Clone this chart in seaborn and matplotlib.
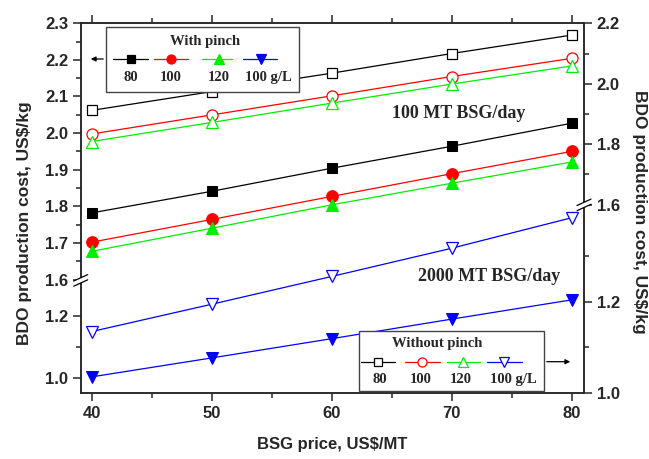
import numpy as np
import matplotlib
matplotlib.use('Agg')
import matplotlib.pyplot as plt
from matplotlib.patches import Rectangle, Polygon
import seaborn as sns

# data
bsg_price = [40, 50, 60, 70, 80]
# with pinch -> left axis
wp_80 = [1.782, 1.841, 1.904, 1.964, 2.027]
wp_100 = [1.702, 1.764, 1.827, 1.889, 1.950]
wp_120 = [1.677, 1.740, 1.804, 1.863, 1.921]
wp_100gl = [1.004, 1.065, 1.127, 1.190, 1.252]
# without pinch -> right axis
np_80 = [1.912, 1.974, 2.035, 2.100, 2.161]
np_100 = [1.834, 1.897, 1.960, 2.024, 2.084]
np_120 = [1.809, 1.872, 1.936, 1.999, 2.059]
np_100gl = [1.135, 1.195, 1.256, 1.318, 1.385]

legend_labels = ['80', '100', '120', '100 g/L']
colors = ['black', '#ff0000', '#00ee00', '#0000ff']
markers = ['s', 'o', '^', 'v']
msizes = [7.5, 8.4, 8.6, 8.6]

sns.set_style('ticks')
plt.rcParams['font.family'] = ['Liberation Sans', 'DejaVu Sans']
plt.rcParams['font.weight'] = 'bold'
plt.rcParams['axes.linewidth'] = 1.1

fig = plt.figure(figsize=(6.49, 4.59), dpi=100)
L, R, T, B = 80.7, 584, 23.3, 393
W, H = 649, 459
ax = fig.add_axes([L / W, 1 - B / H, (R - L) / W, (B - T) / H])
ax2 = ax.twinx()


def broken_scale(vals, hts):
    vals = np.asarray(vals, float)
    hts = np.asarray(hts, float)
    return (lambda v: np.interp(v, vals, hts), lambda h: np.interp(h, hts, vals))


# broken y axes (piecewise linear scales)
ax.set_yscale('function', functions=broken_scale([0.952, 1.316, 1.6, 2.3], [0, 113, 113.5, 369.7]))
ax2.set_yscale('function', functions=broken_scale([1.0, 1.413, 1.6, 2.2], [0, 188, 188.3, 369.7]))

for vals, c, m, ms in zip([wp_80, wp_100, wp_120, wp_100gl], colors, markers, msizes):
    sns.lineplot(x=bsg_price, y=vals, ax=ax, color=c, marker=m, markersize=ms,
                 markerfacecolor=c, markeredgecolor=c, linewidth=0.9)
for vals, c, m, ms in zip([np_80, np_100, np_120, np_100gl], colors, markers, msizes):
    sns.lineplot(x=bsg_price, y=vals, ax=ax2, color=c, marker=m, markersize=ms * 0.95,
                 markerfacecolor='white', markeredgecolor=c, markeredgewidth=0.9, linewidth=0.9)

ax.set_xlim(39.08, 81.03)
ax.set_ylim(0.952, 2.3)
ax2.set_ylim(1.0, 2.2)

ax.set_xticks([40, 50, 60, 70, 80])
ax.set_xticks([45, 55, 65, 75], minor=True)
left_major = [1.0, 1.2, 1.6, 1.7, 1.8, 1.9, 2.0, 2.1, 2.2, 2.3]
left_minor = [1.1, 1.65, 1.75, 1.85, 1.95, 2.05, 2.15, 2.25]
right_major = [1.0, 1.2, 1.6, 1.8, 2.0, 2.2]
right_minor = [1.1, 1.3, 1.7, 1.9, 2.1]
ax.set_yticks(left_major)
ax.set_yticklabels([f'{v:.1f}' for v in left_major])
ax.set_yticks(left_minor, minor=True)
ax2.set_yticks(right_major)
ax2.set_yticklabels([f'{v:.1f}' for v in right_major])
ax2.set_yticks(right_minor, minor=True)

for a in (ax, ax2):
    a.tick_params(which='major', length=6, width=1.1, labelsize=12, pad=3)
    a.tick_params(which='minor', length=3.5, width=1.1)
    for lab in a.get_xticklabels() + a.get_yticklabels():
        lab.set_fontweight('bold')
ax.tick_params(axis='x', which='both', top=True)
ax2.grid(False)
ax.grid(False)

ax.set_xlabel('BSG price, US$/MT', fontsize=12, fontweight='bold', labelpad=12)
ax.set_ylabel('BDO production cost, US$/kg', fontsize=12.5, fontweight='bold')
ax2.set_ylabel('BDO production cost, US$/kg', fontsize=12.5, fontweight='bold', rotation=270)
ax.yaxis.set_label_coords(-0.097, 0.46)
ax2.yaxis.set_label_coords(1.125, 0.49)


def fr(xp, yp):
    return ((xp - L) / (R - L), (B - yp) / (B - T))


def draw_break(xp, yp):
    dx, dy, gap = 7, 3.2, 2.6
    pts = [fr(xp - dx, yp + dy), fr(xp + dx, yp - dy), fr(xp + dx, yp - dy - gap * 2), fr(xp - dx, yp + dy - gap * 2)]
    ax2.add_patch(Polygon(pts, closed=True, transform=ax2.transAxes, facecolor='white',
                          edgecolor='none', clip_on=False, zorder=20))
    for off in (0, gap * 2):
        (x0, y0), (x1, y1) = fr(xp - dx, yp + dy - off), fr(xp + dx, yp - dy - off)
        ax2.plot([x0, x1], [y0, y1], transform=ax2.transAxes, color='black', lw=0.9,
                 clip_on=False, zorder=21)


draw_break(L, 283)
draw_break(R, 207.5)

serif = ['Liberation Serif', 'DejaVu Serif']


def legend_box(x0, y0, x1, y1, title, title_xy, line_y, segs, mcent, lab_y, lab_x, filled):
    (fx0, fy0), (fx1, fy1) = fr(x0, y1), fr(x1, y0)
    ax2.add_patch(Rectangle((fx0, fy0), fx1 - fx0, fy1 - fy0, transform=ax2.transAxes,
                            facecolor='white', edgecolor='#444444', lw=1.0, zorder=30, clip_on=False))
    tx, ty = fr(*title_xy)
    ax2.text(tx, ty, title, transform=ax2.transAxes, ha='center', va='center', family=serif,
             fontsize=10.5, fontweight='bold', zorder=31)
    for (s0, s1), mc, c, m, lab, lx in zip(segs, mcent, colors, markers, legend_labels, lab_x):
        (a0, yy), (a1, _) = fr(s0, line_y), fr(s1, line_y)
        ax2.plot([a0, a1], [yy, yy], transform=ax2.transAxes, color=c, lw=0.9, zorder=32, clip_on=False)
        mx, _ = fr(mc, line_y)
        ax2.plot([mx], [yy], transform=ax2.transAxes, marker=m, ms=6.5 if m != 's' else 5.5,
                 color=c, mfc=c if filled else 'white', mec=c, mew=0.9, zorder=33, clip_on=False)
        lxx, lyy = fr(lx, lab_y)
        ax2.text(lxx, lyy, lab, transform=ax2.transAxes, ha='center', va='center', family=serif,
                 fontsize=10.5, fontweight='bold', zorder=33)


legend_box(106, 27, 299, 92, 'With pinch', (205, 42), 59,
           [(113, 148), (154, 188), (202, 232), (243, 277)], [130.7, 171, 219, 261],
           78, [130.7, 171, 219, 268], True)
legend_box(359, 331, 544, 391, 'Without pinch', (437, 343), 361.7,
           [(361, 395), (405, 440), (447, 480), (487, 522)], [378, 422, 463, 504],
           379.5, [380, 421, 461, 513], False)

# arrows pointing to the axis each group belongs to
ax2.annotate('', xy=fr(88, 59), xytext=fr(106, 59), xycoords='axes fraction', textcoords='axes fraction',
             arrowprops=dict(arrowstyle='-|>', color='black', lw=0.9, mutation_scale=7), zorder=34)
ax2.annotate('', xy=fr(573, 361.7), xytext=fr(544, 361.7), xycoords='axes fraction', textcoords='axes fraction',
             arrowprops=dict(arrowstyle='-|>', color='black', lw=0.9, mutation_scale=7), zorder=34)

ax2.text(*fr(459, 114), '100 MT BSG/day', transform=ax2.transAxes, ha='center', va='center',
         family=serif, fontsize=13, fontweight='bold', zorder=35)
ax2.text(*fr(489, 277), '2000 MT BSG/day', transform=ax2.transAxes, ha='center', va='center',
         family=serif, fontsize=13, fontweight='bold', zorder=35)

fig.savefig('out.png', dpi=100)
